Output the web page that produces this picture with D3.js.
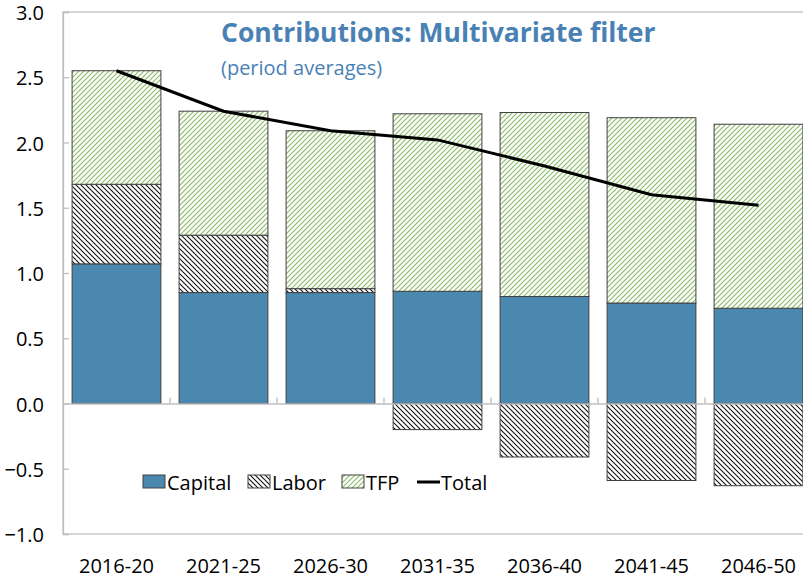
<!DOCTYPE html>
<html>
<head>
<meta charset="utf-8">
<script src="https://cdn.jsdelivr.net/npm/d3@7"></script>
<style>
  body { margin: 0; background: #fff; }
  svg { display: block; font-family: "Segoe UI", "Open Sans", "Noto Sans", sans-serif; }
</style>
</head>
<body>
<div id="chart"></div>
<script>
// chart data
var periods = ["2016-20", "2021-25", "2026-30", "2031-35", "2036-40", "2041-45", "2046-50"];
var capital = [1.07, 0.85, 0.85, 0.86, 0.82, 0.77, 0.73];
var labor   = [0.61, 0.44, 0.03, -0.20, -0.41, -0.59, -0.63];
var tfp     = [0.87, 0.95, 1.21, 1.36, 1.41, 1.42, 1.41];
var total   = [2.55, 2.24, 2.09, 2.02, 1.82, 1.60, 1.52];
var yTicks  = [-1.0, -0.5, 0.0, 0.5, 1.0, 1.5, 2.0, 2.5, 3.0];

var W = 803, H = 581;
var margin = {top: 12, right: -9, bottom: 47, left: 63};
var width = W - margin.left - margin.right,
    height = H - margin.top - margin.bottom;

var blue = "#4a88b0", green = "#8cbd6a", titleBlue = "#4a81b5";
var fs = 20;

var svg = d3.select("#chart").append("svg")
    .attr("width", W).attr("height", H);

var defs = svg.append("defs");
// labor hatch: black "\" lines
var pl = defs.append("pattern").attr("id", "laborPat")
    .attr("patternUnits", "userSpaceOnUse").attr("width", 5).attr("height", 5);
pl.append("rect").attr("width", 5).attr("height", 5).attr("fill", "#fff");
pl.append("path").attr("d", "M-1,-1 L6,6 M-1,4 L1,6 M4,-1 L6,1")
    .attr("stroke", "#111").attr("stroke-width", 1.1);
// tfp hatch: green "/" lines
var pt = defs.append("pattern").attr("id", "tfpPat")
    .attr("patternUnits", "userSpaceOnUse").attr("width", 5).attr("height", 5);
pt.append("rect").attr("width", 5).attr("height", 5).attr("fill", "#fff");
pt.append("path").attr("d", "M-1,6 L6,-1 M-1,1 L1,-1 M4,6 L6,4")
    .attr("stroke", green).attr("stroke-width", 1.2);

var g = svg.append("g").attr("transform", "translate(" + margin.left + "," + margin.top + ")");

var x = d3.scaleBand().domain(periods).range([0, width]).paddingInner(0.17).paddingOuter(0.085);
var xb = d3.scaleBand().domain(periods).range([0, width]);
var y = d3.scaleLinear().domain([-1, 3]).range([height, 0]);

// frame
g.append("rect").attr("width", width).attr("height", height)
    .attr("fill", "none").attr("stroke", "#bfbfbf").attr("stroke-width", 1.3);

// stacked series
var rows = periods.map(function(p, i) {
  return {p: p, cap: capital[i], lab: labor[i], tfp: tfp[i]};
});
var segs = [];
rows.forEach(function(r) {
  segs.push({p: r.p, y0: 0, y1: r.cap, fill: blue});
  var labBase = r.lab >= 0 ? r.cap : 0;
  segs.push({p: r.p, y0: labBase, y1: labBase + r.lab, fill: "url(#laborPat)"});
  var tfpBase = r.cap + Math.max(r.lab, 0);
  segs.push({p: r.p, y0: tfpBase, y1: tfpBase + r.tfp, fill: "url(#tfpPat)"});
});

g.selectAll("rect.seg").data(segs).enter().append("rect")
    .attr("class", "seg")
    .attr("x", function(d) { return x(d.p); })
    .attr("width", x.bandwidth())
    .attr("y", function(d) { return y(Math.max(d.y0, d.y1)); })
    .attr("height", function(d) { return Math.abs(y(d.y0) - y(d.y1)); })
    .attr("fill", function(d) { return d.fill; })
    .attr("stroke", "#404040").attr("stroke-width", 1);

// zero axis with category ticks
var xAxis = g.append("g").attr("transform", "translate(0," + y(0) + ")")
    .call(d3.axisBottom(xb).tickSize(0).tickFormat(""));
xAxis.select(".domain").attr("stroke", "#bfbfbf").attr("stroke-width", 1.3);
xAxis.selectAll(".bnd").data(periods.slice(1)).enter().append("line")
    .attr("class", "bnd")
    .attr("x1", function(d) { return xb(d); }).attr("x2", function(d) { return xb(d); })
    .attr("y1", 0).attr("y2", -6).attr("stroke", "#bfbfbf").attr("stroke-width", 1.3);

// category labels at bottom
g.selectAll("text.cat").data(periods).enter().append("text")
    .attr("class", "cat")
    .attr("x", function(d) { return xb(d) + xb.bandwidth() / 2; })
    .attr("y", height + 39)
    .attr("text-anchor", "middle")
    .attr("font-size", fs).attr("fill", "#000")
    .text(function(d) { return d; });

// y axis
var yAxis = g.append("g")
    .call(d3.axisLeft(y).tickValues(yTicks).tickFormat(d3.format(".1f")).tickSize(-6).tickPadding(19));
yAxis.select(".domain").attr("stroke", "#bfbfbf").attr("stroke-width", 1.3);
yAxis.selectAll(".tick line").attr("stroke", "#bfbfbf").attr("stroke-width", 1.3);
yAxis.selectAll(".tick text").attr("font-size", fs).attr("fill", "#000").attr("dy", "0.38em")
    .attr("font-family", "Segoe UI, Open Sans, Noto Sans, sans-serif");

// total line
var line = d3.line()
    .x(function(d, i) { return x(periods[i]) + x.bandwidth() / 2; })
    .y(function(d) { return y(d); });
g.append("path").datum(total).attr("d", line)
    .attr("fill", "none").attr("stroke", "#000").attr("stroke-width", 3);

// title
svg.append("text").attr("x", 221).attr("y", 42)
    .attr("font-size", 26.5).attr("font-weight", "bold").attr("fill", titleBlue)
    .text("Contributions: Multivariate filter");
svg.append("text").attr("x", 221).attr("y", 75)
    .attr("font-size", fs).attr("fill", titleBlue)
    .text("(period averages)");

// legend
var legend = [
  {name: "Capital", type: "rect", fill: blue, x: 143},
  {name: "Labor", type: "rect", fill: "url(#laborPat)", x: 248},
  {name: "TFP", type: "rect", fill: "url(#tfpPat)", x: 342},
  {name: "Total", type: "line", x: 417}
];
var lg = svg.append("g");
legend.forEach(function(l) {
  if (l.type === "rect") {
    lg.append("rect").attr("x", l.x).attr("y", 475).attr("width", 22).attr("height", 13)
      .attr("fill", l.fill).attr("stroke", "#404040").attr("stroke-width", 1);
  } else {
    lg.append("line").attr("x1", l.x).attr("x2", l.x + 23).attr("y1", 482).attr("y2", 482)
      .attr("stroke", "#000").attr("stroke-width", 3);
  }
  lg.append("text").attr("x", l.x + 24).attr("y", 490)
    .attr("font-size", fs).attr("fill", "#000").text(l.name);
});
</script>
</body>
</html>
